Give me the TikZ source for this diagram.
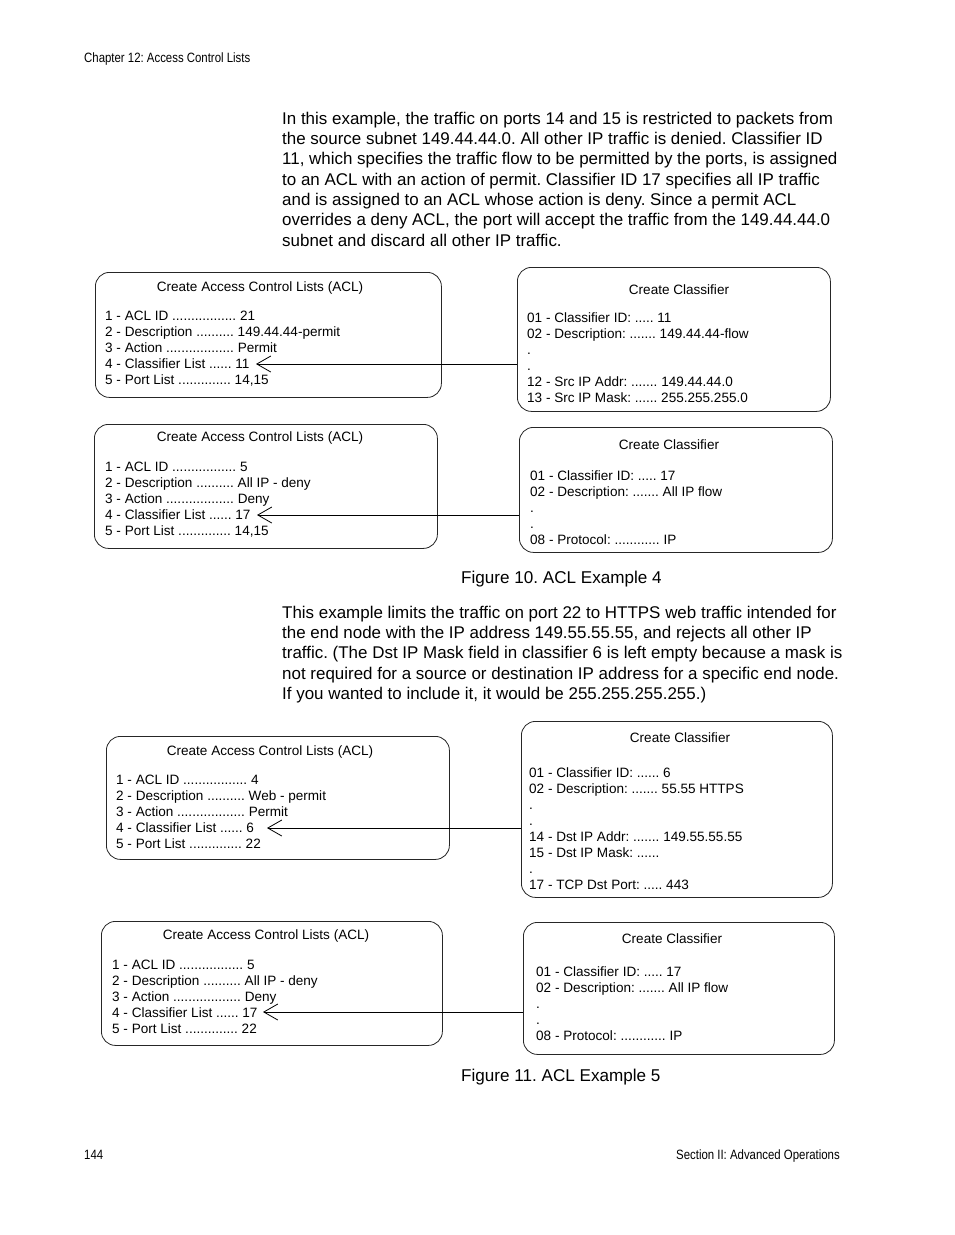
\documentclass[tikz,border=0pt]{standalone}
\usepackage{fontspec}
\setmainfont{Liberation Sans}
\usetikzlibrary{arrows.meta}
\tikzset{
  panel/.style={draw=black!85, line width=0.8pt, rounded corners=14pt, inner sep=0pt, anchor=north west},
  body/.style={inner sep=0pt, anchor=north west, yshift=14.21pt, align=left, font=\fontsize{16.95}{20.3}\selectfont},
  caption/.style={inner sep=0pt, anchor=base west, font=\fontsize{17.1}{20.3}\selectfont},
  boxtxt/.style={inner sep=0pt, anchor=north west, yshift=11.27pt, align=left, font=\fontsize{13.55}{16.1}\selectfont},
  boxtitle/.style={inner sep=0pt, anchor=base, font=\fontsize{13.55}{16}\selectfont},
  link/.style={draw=black, line width=0.8pt, -{Straight Barb[length=14pt,width=16pt]}},
  runhead/.style={inner sep=0pt, font=\fontsize{13.5}{15}\selectfont},
}
\newcommand{\narrowtxt}[1]{\scalebox{0.845}[1]{#1}}
\begin{document}
\frenchspacing
\begin{tikzpicture}[x=1pt,y=-1pt]
\useasboundingbox (0,0) rectangle (954,1235);
\fill[white] (0,0) rectangle (954,1235);

% running head and foot
\node[runhead, anchor=base west] (head) at (84,62.5) {\narrowtxt{Chapter 12: Access Control Lists}};
\node[runhead, anchor=base west] (pgno) at (84,1159.5) {\narrowtxt{144}};
\node[runhead, anchor=base east] (sect) at (840,1159.5) {\narrowtxt{Section II: Advanced Operations}};

% paragraph 1
\node[body] (par1) at (282,124.1) {\strut In this example, the traffic on ports 14 and 15 is restricted to packets from\\
the source subnet 149.44.44.0. All other IP traffic is denied. Classifier ID\\
11, which specifies the traffic flow to be permitted by the ports, is assigned\\
to an ACL with an action of permit. Classifier ID 17 specifies all IP traffic\\
and is assigned to an ACL whose action is deny. Since a permit ACL\\
overrides a deny ACL, the port will accept the traffic from the 149.44.44.0\\
subnet and discard all other IP traffic.};

% ---------- Figure 10 ----------
\node[panel, minimum width=346, minimum height=125] (acl1) at (95,272) {};
\node[boxtitle] (acl1t) at (260,291.85) {Create Access Control Lists (ACL)};
\node[boxtxt] (acl1l) at (105,319.85) {\strut 1 - ACL ID ................. 21\\
2 - Description .......... 149.44.44-permit\\
3 - Action .................. Permit\\
4 - Classifier List ...... 11\\
5 - Port List .............. 14,15};

\node[panel, minimum width=313, minimum height=144] (cls1) at (517,267) {};
\node[boxtitle] (cls1t) at (679,294.85) {Create Classifier};
\node[boxtxt] (cls1l) at (527,321.85) {\strut 01 - Classifier ID: ..... 11\\
02 - Description: ....... 149.44.44-flow\\
.\\
.\\
12 - Src IP Addr: ....... 149.44.44.0\\
13 - Src IP Mask: ...... 255.255.255.0};

\node[panel, minimum width=343, minimum height=124] (acl2) at (94,424) {};
\node[boxtitle] (acl2t) at (260,441.85) {Create Access Control Lists (ACL)};
\node[boxtxt] (acl2l) at (105,470.85) {\strut 1 - ACL ID ................. 5\\
2 - Description .......... All IP - deny\\
3 - Action .................. Deny\\
4 - Classifier List ...... 17\\
5 - Port List .............. 14,15};

\node[panel, minimum width=313, minimum height=125] (cls2) at (519,427) {};
\node[boxtitle] (cls2t) at (669,449.85) {Create Classifier};
\node[boxtxt] (cls2l) at (530,479.85) {\strut 01 - Classifier ID: ..... 17\\
02 - Description: ....... All IP flow\\
.\\
.\\
08 - Protocol: ............ IP};

\coordinate (tip1) at (256,364);
\coordinate (tip2) at (257,515);
\draw[link] (cls1.west |- tip1) -- (tip1);
\draw[link] (cls2.west |- tip2) -- (tip2);

\node[caption] (cap10) at (461,583.1) {Figure 10. ACL Example 4};

% paragraph 2
\node[body] (par2) at (282,618.1) {\strut This example limits the traffic on port 22 to HTTPS web traffic intended for\\
the end node with the IP address 149.55.55.55, and rejects all other IP\\
traffic. (The Dst IP Mask field in classifier 6 is left empty because a mask is\\
not required for a source or destination IP address for a specific end node.\\
If you wanted to include it, it would be 255.255.255.255.)};

% ---------- Figure 11 ----------
\node[panel, minimum width=343, minimum height=123] (acl3) at (106,736) {};
\node[boxtitle] (acl3t) at (270,755.85) {Create Access Control Lists (ACL)};
\node[boxtxt] (acl3l) at (116,783.85) {\strut 1 - ACL ID ................. 4\\
2 - Description .......... Web - permit\\
3 - Action .................. Permit\\
4 - Classifier List ...... 6\\
5 - Port List .............. 22};

\node[panel, minimum width=311, minimum height=176] (cls3) at (521,721) {};
\node[boxtitle] (cls3t) at (680,742.85) {Create Classifier};
\node[boxtxt, font=\fontsize{13.55}{16}\selectfont, yshift=-0.07pt] (cls3l) at (529,776.85) {\strut 01 - Classifier ID: ...... 6\\
02 - Description: ....... 55.55 HTTPS\\
.\\
.\\
14 - Dst IP Addr: ....... 149.55.55.55\\
15 - Dst IP Mask: ......\\
.\\
17 - TCP Dst Port: ..... 443};

\node[panel, minimum width=341, minimum height=124] (acl4) at (101,921) {};
\node[boxtitle] (acl4t) at (266,939.85) {Create Access Control Lists (ACL)};
\node[boxtxt] (acl4l) at (112,968.85) {\strut 1 - ACL ID ................. 5\\
2 - Description .......... All IP - deny\\
3 - Action .................. Deny\\
4 - Classifier List ...... 17\\
5 - Port List .............. 22};

\node[panel, minimum width=311, minimum height=132] (cls4) at (523,922) {};
\node[boxtitle] (cls4t) at (672,943.85) {Create Classifier};
\node[boxtxt] (cls4l) at (536,975.85) {\strut 01 - Classifier ID: ..... 17\\
02 - Description: ....... All IP flow\\
.\\
.\\
08 - Protocol: ............ IP};

\coordinate (tip3) at (267,828);
\coordinate (tip4) at (263,1012);
\draw[link] (cls3.west |- tip3) -- (tip3);
\draw[link] (cls4.west |- tip4) -- (tip4);

\node[caption] (cap11) at (461,1081.1) {Figure 11. ACL Example 5};
\end{tikzpicture}
\end{document}
